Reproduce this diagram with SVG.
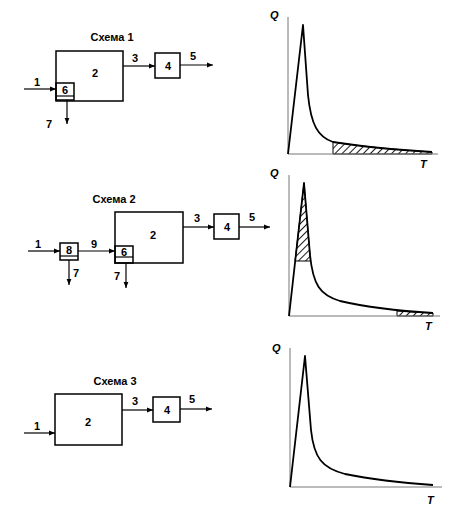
<svg xmlns="http://www.w3.org/2000/svg" width="464" height="511" viewBox="0 0 464 511">
<style>
.box{fill:none;stroke:#000;stroke-width:1.5}
.ln{fill:none;stroke:#000;stroke-width:1.2}
.t{font-family:"Liberation Sans",Arial,sans-serif;font-weight:bold;font-size:11px;fill:#000}
.c{text-anchor:middle}
.ax{fill:none;stroke:#777;stroke-width:1}
.cv{fill:none;stroke:#000;stroke-width:1.8;stroke-linejoin:round}
.q{font-family:"Liberation Sans",Arial,sans-serif;font-weight:bold;font-style:italic;font-size:11px;fill:#000}
</style>
<defs>
<marker id="ah" viewBox="0 0 10 10" refX="10" refY="5" markerWidth="6" markerHeight="6" orient="auto" markerUnits="userSpaceOnUse">
<path d="M0,1 L10,5 L0,9 Z" fill="#000"/>
</marker>
<pattern id="hatch" patternUnits="userSpaceOnUse" width="5" height="5" patternTransform="rotate(45)">
<rect width="5" height="5" fill="#fff"/>
<line x1="0" y1="0" x2="0" y2="5" stroke="#000" stroke-width="1.8"/>
</pattern>
</defs>
<rect width="464" height="511" fill="#fff"/>

<!-- Scheme 1 -->
<text class="t c" x="112" y="41">Схема 1</text>
<g id="s1-n2"><rect class="box" x="56" y="51" width="67" height="50"/><text class="t c" x="95" y="77">2</text></g>
<g id="s1-n6"><rect class="box" x="56" y="83" width="18" height="17"/><line class="ln" x1="56" y1="96" x2="74" y2="96"/><text class="t c" x="65" y="94">6</text></g>
<g id="s1-n4"><rect class="box" x="155" y="53" width="25" height="25"/><text class="t c" x="168" y="70">4</text></g>
<g id="s1-connectors">
<line class="ln" x1="24" y1="89" x2="56" y2="89" marker-end="url(#ah)"/>
<line class="ln" x1="67" y1="100" x2="67" y2="124" marker-end="url(#ah)"/>
<line class="ln" x1="123" y1="66" x2="155" y2="66" marker-end="url(#ah)"/>
<line class="ln" x1="180" y1="65" x2="213" y2="65" marker-end="url(#ah)"/>
<text class="t c" x="37" y="86">1</text>
<text class="t c" x="49" y="128">7</text>
<text class="t c" x="135" y="62">3</text>
<text class="t c" x="193" y="60">5</text>
</g>

<!-- Scheme 2 -->
<text class="t c" x="114" y="203">Схема 2</text>
<g id="s2-n2"><rect class="box" x="115" y="212" width="68" height="51"/><text class="t c" x="153" y="239">2</text></g>
<g id="s2-n6"><rect class="box" x="115" y="246" width="18" height="17"/><line class="ln" x1="115" y1="257" x2="133" y2="257"/><text class="t c" x="124" y="256">6</text></g>
<g id="s2-n8"><rect class="box" x="60" y="243" width="18" height="17"/><line class="ln" x1="60" y1="256" x2="78" y2="256"/><text class="t c" x="69" y="254">8</text></g>
<g id="s2-n4"><rect class="box" x="214" y="214" width="25" height="25"/><text class="t c" x="227" y="231">4</text></g>
<g id="s2-connectors">
<line class="ln" x1="28" y1="251" x2="60" y2="251" marker-end="url(#ah)"/>
<line class="ln" x1="78" y1="251" x2="115" y2="251" marker-end="url(#ah)"/>
<line class="ln" x1="69" y1="260" x2="69" y2="285" marker-end="url(#ah)"/>
<line class="ln" x1="126" y1="263" x2="126" y2="288" marker-end="url(#ah)"/>
<line class="ln" x1="183" y1="227" x2="214" y2="227" marker-end="url(#ah)"/>
<line class="ln" x1="239" y1="227" x2="270" y2="227" marker-end="url(#ah)"/>
<text class="t c" x="38" y="248">1</text>
<text class="t c" x="94" y="248">9</text>
<text class="t c" x="76" y="277">7</text>
<text class="t c" x="117" y="280">7</text>
<text class="t c" x="197" y="222">3</text>
<text class="t c" x="252" y="221">5</text>
</g>

<!-- Scheme 3 -->
<text class="t c" x="115" y="385">Схема 3</text>
<g id="s3-n2"><rect class="box" x="55" y="394" width="67" height="51"/><text class="t c" x="88" y="426">2</text></g>
<g id="s3-n4"><rect class="box" x="153" y="397" width="27" height="25"/><text class="t c" x="167" y="414">4</text></g>
<g id="s3-connectors">
<line class="ln" x1="24" y1="433" x2="55" y2="433" marker-end="url(#ah)"/>
<line class="ln" x1="122" y1="410" x2="153" y2="410" marker-end="url(#ah)"/>
<line class="ln" x1="180" y1="409" x2="212" y2="409" marker-end="url(#ah)"/>
<text class="t c" x="37" y="430">1</text>
<text class="t c" x="135" y="405">3</text>
<text class="t c" x="192" y="403">5</text>
</g>

<!-- Chart 1 -->
<path d="M333,154 L333,142 C365,147 400,150 432,152 L432,154 Z" fill="url(#hatch)" stroke="#000" stroke-width="1"/>
<path class="ax" d="M288,17 L288,154 L438,154"/>
<path class="cv" d="M288,154 L303,25 L308,95 C311,125 318,137 333,142 C365,147 400,150 432,152"/>
<text class="q" x="270" y="19">Q</text>
<text class="q" x="420" y="168">T</text>

<!-- Chart 2 -->
<path d="M295,261 L304,183 L310.5,261 Z" fill="url(#hatch)" stroke="#000" stroke-width="1"/>
<path d="M397,316 L397,311 C410,312 420,312.5 433,313 L433,316 Z" fill="url(#hatch)" stroke="#000" stroke-width="1"/>
<path class="ax" d="M289,175 L289,316 L440,316"/>
<path class="cv" d="M289,316 L304,183 L310,255 C313,285 320,295 340,301 C370,308 400,311 433,313"/>
<text class="q" x="270" y="177">Q</text>
<text class="q" x="425" y="330">T</text>

<!-- Chart 3 -->
<path class="ax" d="M290,348 L290,487 L442,487"/>
<path class="cv" d="M290,487 L305,356 L311,430 C314,458 322,468 345,474 C375,480 405,483 433,485"/>
<text class="q" x="272" y="352">Q</text>
<text class="q" x="427" y="504">T</text>
</svg>
